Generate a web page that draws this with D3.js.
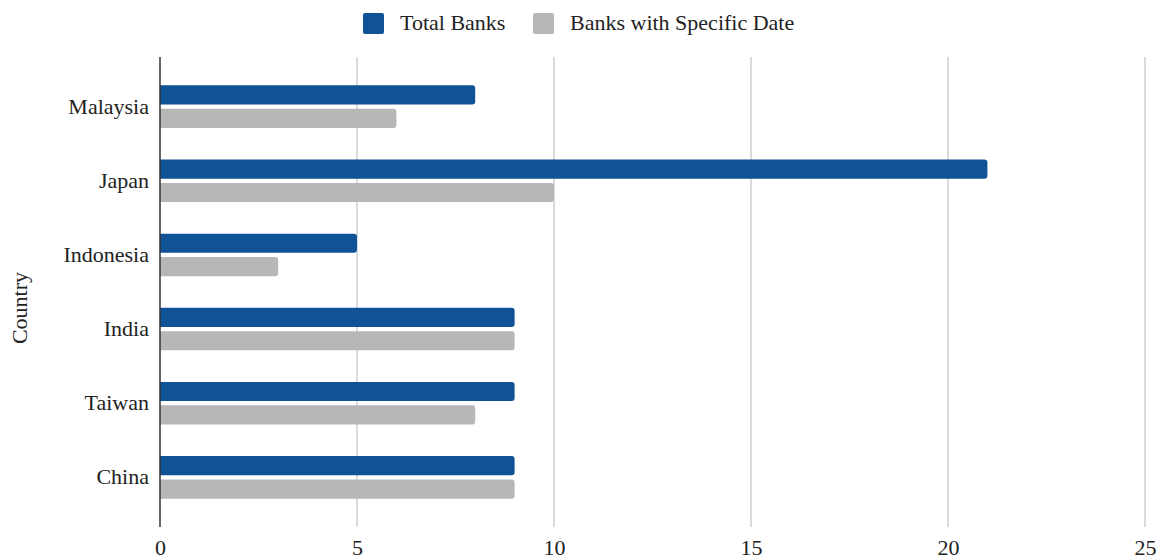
<!DOCTYPE html>
<html>
<head>
<meta charset="utf-8">
<script src="https://cdn.jsdelivr.net/npm/d3@7/dist/d3.min.js"></script>
<style>
  html, body { margin: 0; padding: 0; background: #fff; }
  svg { display: block; font-family: "Liberation Serif", "Times New Roman", serif; }
</style>
</head>
<body>
<svg id="chart" width="1158" height="560"></svg>
<script>
// Bank counts per country
const countries = ["Malaysia", "Japan", "Indonesia", "India", "Taiwan", "China"];
const seriesNames = ["Total Banks", "Banks with Specific Date"];
const totalBanks = [8, 21, 5, 9, 9, 9];
const specificDateBanks = [6, 10, 3, 9, 8, 9];
const xTicks = [0, 5, 10, 15, 20, 25];
const colors = ["#0f5396", "#b7b7b7"];

const svg = d3.select("#chart");
const plotLeft = 160, plotRight = 1145, plotTop = 57, plotBottom = 527;
const fontSize = 22;

const x = d3.scaleLinear().domain([0, 25]).range([plotLeft, plotRight]);
const y = d3.scaleBand().domain(countries).range([plotTop, plotBottom]).paddingInner(0).paddingOuter(0.17);
const groupH = 42.6;
const y1 = d3.scaleBand().domain(seriesNames).range([0, groupH]).paddingInner(0.18);

const rows = countries.map((c, i) => ({ country: c, values: [totalBanks[i], specificDateBanks[i]] }));

// vertical gridlines
svg.append("g")
  .selectAll("line")
  .data(xTicks.filter(t => t > 0))
  .join("line")
  .attr("x1", d => x(d)).attr("x2", d => x(d))
  .attr("y1", plotTop).attr("y2", plotBottom)
  .attr("stroke", "#cfcfcf").attr("stroke-width", 1.5);

// bars with rounded right end
function barPath(x0, x1, y0, h, r) {
  r = Math.min(r, (x1 - x0), h / 2);
  return `M${x0},${y0}H${x1 - r}Q${x1},${y0} ${x1},${y0 + r}V${y0 + h - r}Q${x1},${y0 + h} ${x1 - r},${y0 + h}H${x0}Z`;
}

const groups = svg.append("g")
  .selectAll("g")
  .data(rows)
  .join("g")
  .attr("transform", d => `translate(0,${y(d.country) + y.bandwidth() / 2 - groupH / 2})`);

groups.selectAll("path")
  .data(d => d.values.map((v, j) => ({ name: seriesNames[j], value: v, j })))
  .join("path")
  .attr("d", d => barPath(x(0), x(d.value), y1(d.name), y1.bandwidth(), 3))
  .attr("fill", d => colors[d.j]);

// axis line at zero
svg.append("line")
  .attr("x1", x(0)).attr("x2", x(0))
  .attr("y1", plotTop).attr("y2", plotBottom)
  .attr("stroke", "#333").attr("stroke-width", 1.5);

// x axis labels
const xAxis = d3.axisBottom(x).tickValues(xTicks).tickSize(0).tickPadding(0).tickFormat(d3.format("d"));
const gx = svg.append("g").attr("transform", `translate(0,${plotBottom})`).call(xAxis);
gx.select(".domain").remove();
gx.selectAll("text")
  .attr("y", 28).attr("dy", 0)
  .attr("font-family", "Liberation Serif, serif")
  .attr("font-size", fontSize).attr("fill", "#222");

// y axis labels
const yAxis = d3.axisLeft(y).tickSize(0).tickPadding(0);
const gy = svg.append("g").attr("transform", `translate(${plotLeft},0)`).call(yAxis);
gy.select(".domain").remove();
gy.selectAll("text")
  .attr("x", -11).attr("dy", "0.32em")
  .attr("font-family", "Liberation Serif, serif")
  .attr("font-size", fontSize).attr("fill", "#222");

// axis title
svg.append("text")
  .attr("transform", "translate(27,308) rotate(-90)")
  .attr("text-anchor", "middle")
  .attr("font-size", fontSize).attr("fill", "#222")
  .text("Country");

// legend
const legendX = [363, 533];
const legend = svg.append("g")
  .selectAll("g")
  .data(seriesNames)
  .join("g")
  .attr("transform", (d, i) => `translate(${legendX[i]},13)`);
legend.append("rect")
  .attr("width", 21).attr("height", 21).attr("rx", 2)
  .attr("fill", (d, i) => colors[i]);
legend.append("text")
  .attr("x", 37).attr("y", 17)
  .attr("font-size", fontSize).attr("fill", "#222")
  .text(d => d);
</script>
</body>
</html>
